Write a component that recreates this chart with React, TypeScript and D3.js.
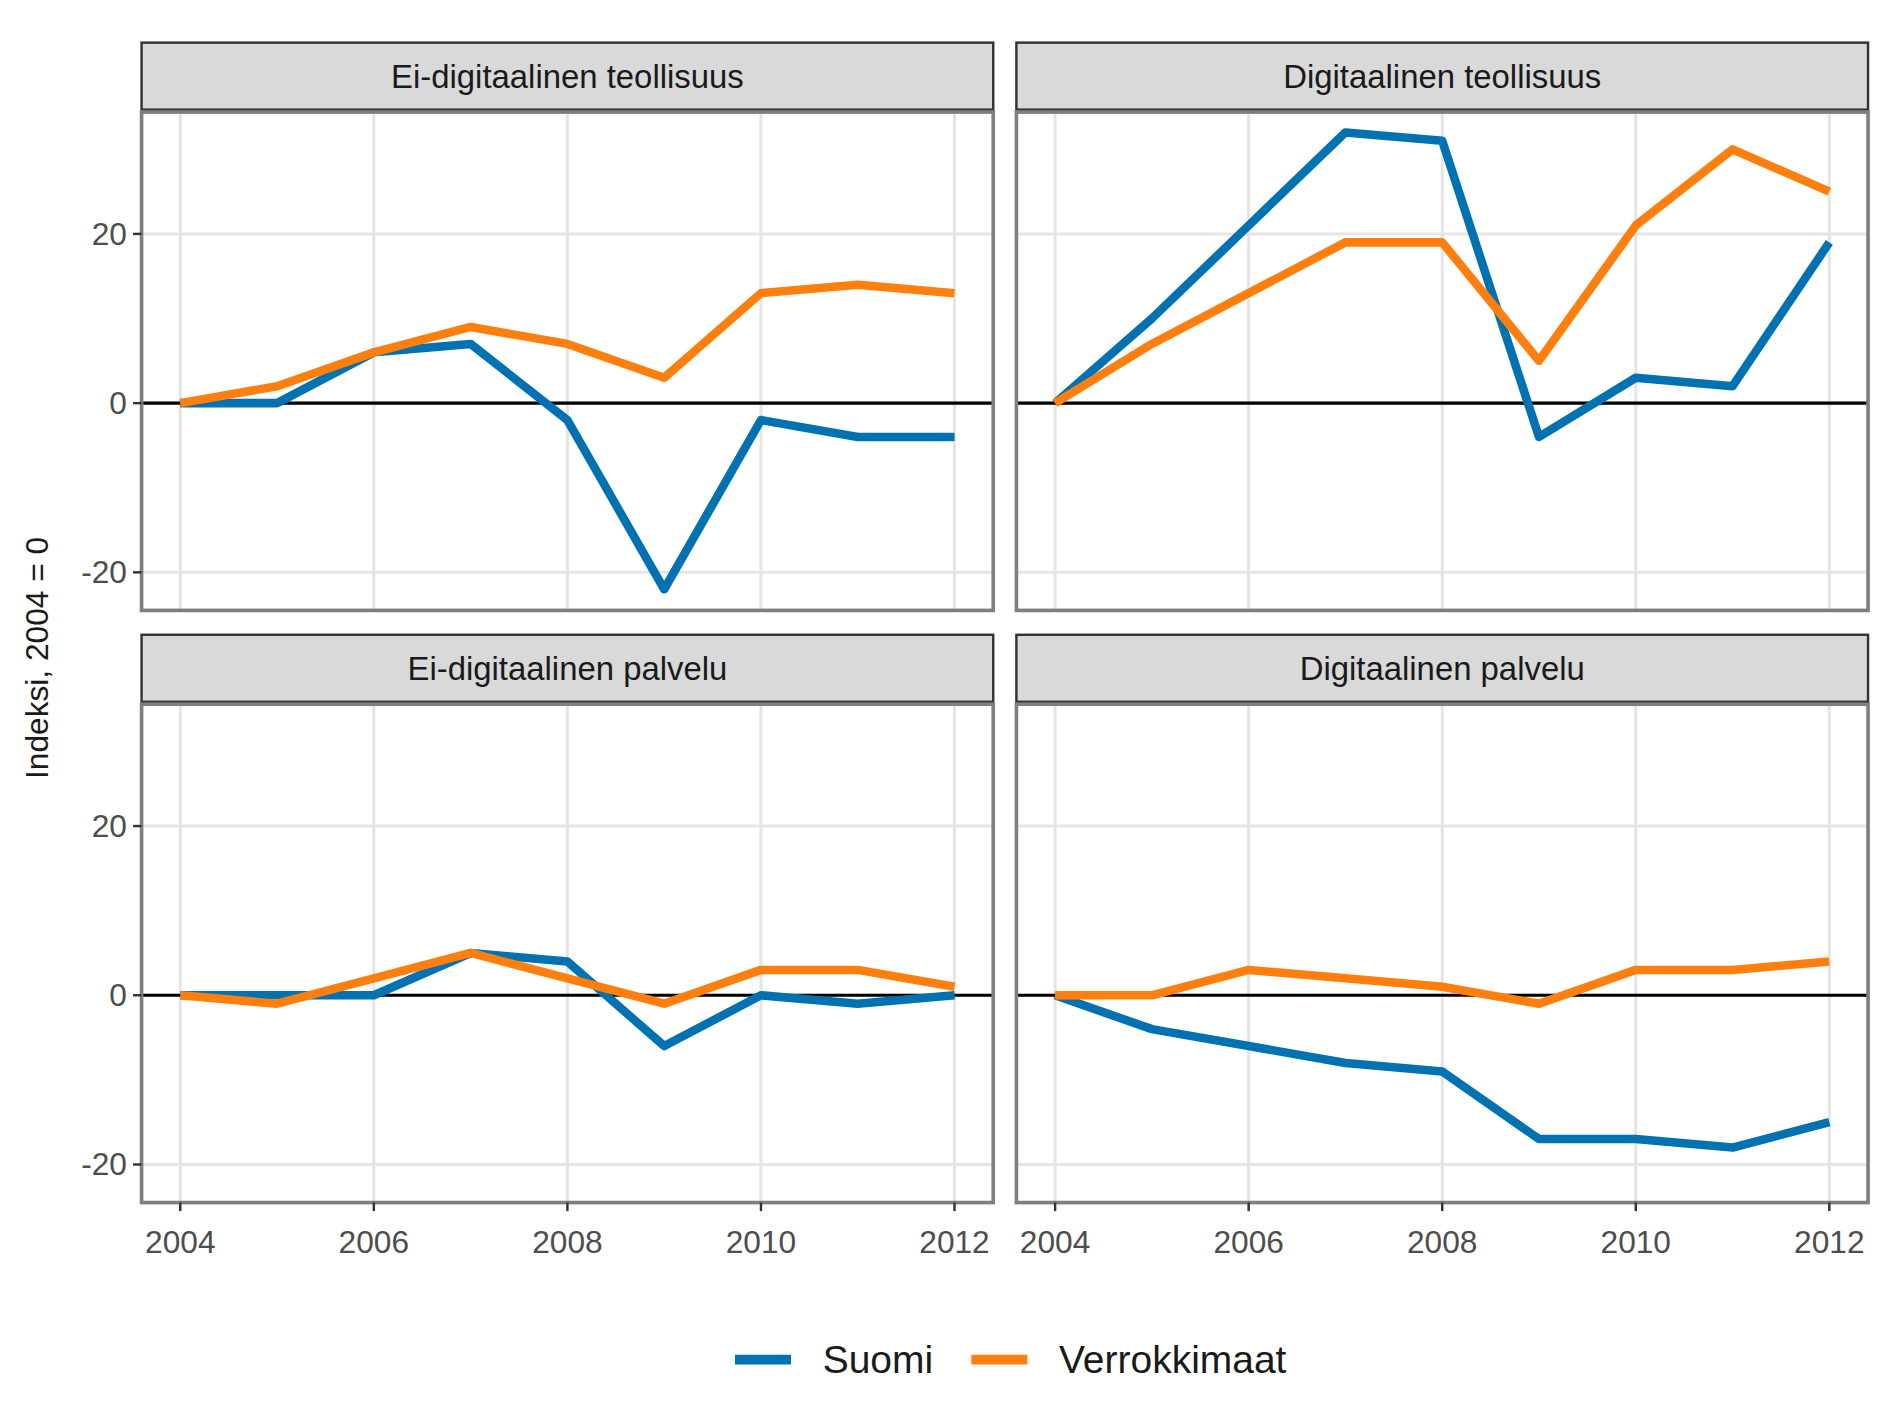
import React from "react";
import * as d3 from "d3";

const years = [2004, 2005, 2006, 2007, 2008, 2009, 2010, 2011, 2012];
const panels = ["Ei-digitaalinen teollisuus", "Digitaalinen teollisuus", "Ei-digitaalinen palvelu", "Digitaalinen palvelu"];
const suomi = [
  [0, 0, 6, 7, -2, -22, -2, -4, -4],
  [0, 10, 21, 32, 31, -4, 3, 2, 19],
  [0, 0, 0, 5, 4, -6, 0, -1, 0],
  [0, -4, -6, -8, -9, -17, -17, -18, -15],
];
const verrokki = [
  [0, 2, 6, 9, 7, 3, 13, 14, 13],
  [0, 7, 13, 19, 19, 5, 21, 30, 25],
  [0, -1, 2, 5, 2, -1, 3, 3, 1],
  [0, 0, 3, 2, 1, -1, 3, 3, 4],
];
const yTicks = [-20, 0, 20];
const xTicks = [2004, 2006, 2008, 2010, 2012];
const seriesNames = ["Suomi", "Verrokkimaat"];
const colors = ["#0072B2", "#FF7F0E"];

const font = "Liberation Sans, Arial, sans-serif";
const W = 699, H = 409;
const cols = [116, 834];
const rows = [92, 578];

export default function App() {
  const x = d3.scaleLinear().domain([2003.6, 2012.4]).range([0, W]);
  const y = d3.scaleLinear().domain([-24.5, 34.4]).range([H, 0]);
  const line = d3.line<number>().x((_, i) => x(years[i])).y((d) => y(d));
  return (
    <svg width={1889} height={1417} viewBox="0 0 1550 1163" style={{ position: "absolute", left: 0, top: 0, background: "#fff" }} fontFamily={font}>
      {panels.map((name, p) => {
        const ox = cols[p % 2], oy = rows[Math.floor(p / 2)];
        return (
          <g key={name} transform={`translate(${ox},${oy})`}>
            <rect x={0} y={-57} width={W} height={55} fill="#D9D9D9" stroke="#333" strokeWidth={2} />
            <text x={W / 2} y={-29} textAnchor="middle" dominantBaseline="central" fontSize={27} fill="#1a1a1a">{name}</text>
            {yTicks.map((t) => <line key={t} x1={0} x2={W} y1={y(t)} y2={y(t)} stroke="#E5E5E5" strokeWidth={2.5} />)}
            {xTicks.map((t) => <line key={t} x1={x(t)} x2={x(t)} y1={0} y2={H} stroke="#E5E5E5" strokeWidth={2.5} />)}
            <line x1={0} x2={W} y1={y(0)} y2={y(0)} stroke="#000" strokeWidth={2.5} />
            {[suomi[p], verrokki[p]].map((s, k) => (
              <path key={k} d={line(s) || ""} fill="none" stroke={colors[k]} strokeWidth={7} strokeLinejoin="round" />
            ))}
            <rect x={0} y={0} width={W} height={H} fill="none" stroke="#7F7F7F" strokeWidth={3} />
            {p % 2 === 0 && yTicks.map((t) => (
              <g key={t}>
                <line x1={-7} x2={0} y1={y(t)} y2={y(t)} stroke="#333" strokeWidth={2} />
                <text x={-12} y={y(t)} textAnchor="end" dominantBaseline="central" fontSize={26} fill="#4D4D4D">{t}</text>
              </g>
            ))}
            {p >= 2 && xTicks.map((t) => (
              <g key={t}>
                <line x1={x(t)} x2={x(t)} y1={H} y2={H + 7} stroke="#333" strokeWidth={2} />
                <text x={x(t)} y={H + 32} textAnchor="middle" dominantBaseline="central" fontSize={26} fill="#4D4D4D">{t}</text>
              </g>
            ))}
          </g>
        );
      })}
      <text transform="translate(30,540) rotate(-90)" textAnchor="middle" dominantBaseline="central" fontSize={26} fill="#1a1a1a">Indeksi, 2004 = 0</text>
      {seriesNames.map((n, k) => {
        const lx = k === 0 ? 603 : 797;
        return (
          <g key={n}>
            <line x1={lx} x2={lx + 46} y1={1116} y2={1116} stroke={colors[k]} strokeWidth={8} />
            <text x={lx + 72} y={1116} dominantBaseline="central" fontSize={32} fill="#1a1a1a">{n}</text>
          </g>
        );
      })}
    </svg>
  );
}
